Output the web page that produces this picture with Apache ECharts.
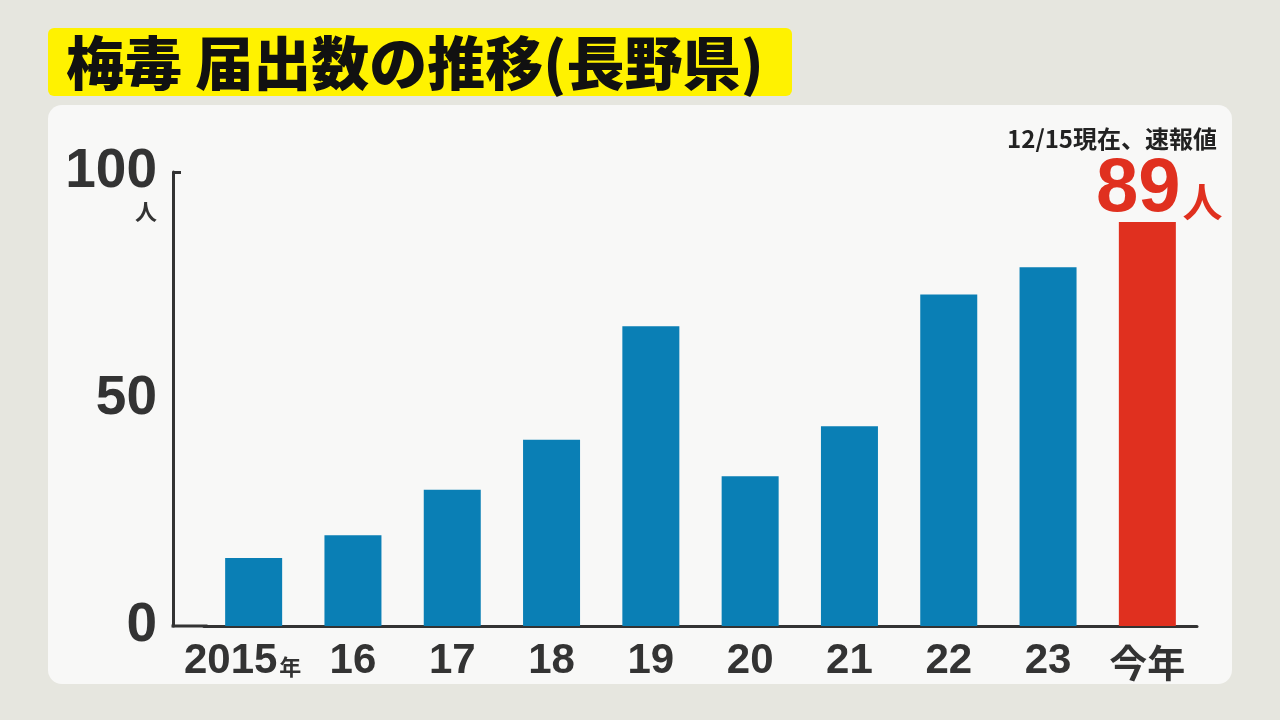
<!DOCTYPE html>
<html><head><meta charset="utf-8">
<style>html,body{margin:0;padding:0;background:#e6e6df;}#c{width:1280px;height:720px;}</style>
<script src="https://cdn.jsdelivr.net/npm/echarts@6/dist/echarts.min.js"></script>
</head><body><div id="c"></div>
<script>
const categories = ['2015','16','17','18','19','20','21','22','23','今年'];
const values = [15, 20, 30, 41, 66, 33, 44, 73, 79, 89];
const yTicks = [0, 50, 100];
const titleText = '梅毒 届出数の推移(長野県)';
const noteText = '12/15現在、速報値';

const BLUE = '#0a7fb5', RED = '#e0301f';
const chart = echarts.init(document.getElementById('c'));
const data = values.map((v, i) => i === values.length - 1 ? {
  value: v, itemStyle: {color: RED},
  label: {show: true, position: 'top', distance: 0, offset: [12, 6],
    formatter: p => '{n|' + p.value + '}{u|人}',
    rich: {
      n: {fontFamily: 'Liberation Sans, Arial, sans-serif', fontWeight: 'bold', fontSize: 76, color: RED, lineHeight: 70, verticalAlign: 'bottom'},
      u: {fontFamily: 'Noto Sans CJK JP', fontWeight: 'bold', fontSize: 40, color: RED, lineHeight: 70, verticalAlign: 'bottom', padding: [0, 0, 6, 2]}
    }}
} : {value: v});

chart.setOption({
  backgroundColor: '#e6e6df',
  animation: false,
  graphic: [
    {type: 'rect', shape: {x: 48, y: 105, width: 1184, height: 579, r: 14}, style: {fill: '#f8f8f7'}, z: -10},
    {type: 'rect', shape: {x: 48, y: 28, width: 744, height: 68, r: 6}, style: {fill: '#fff200'}, z: -10},
    {type: 'text', x: 66, y: 63, style: {text: titleText, font: '900 58px "Noto Sans CJK JP"', fill: '#111', textVerticalAlign: 'middle'}},
    {type: 'rect', shape: {x: 171.5, y: 624.5, width: 36, height: 3}, style: {fill: '#333'}, z: 10}
  ],
  title: {text: noteText, right: 58, top: 122,
    textStyle: {fontFamily: 'Noto Sans CJK JP', fontWeight: 'bold', fontSize: 24, color: '#222'}},
  grid: {left: 204, right: 83, top: 172, bottom: 94},
  xAxis: {
    type: 'category', data: categories,
    axisLine: {lineStyle: {color: '#333', width: 3}},
    axisTick: {show: false},
    axisLabel: {
      margin: 10, color: '#333',
      formatter: (v, i) => i === 0 ? '{y|' + v + '}{s|年}' : (v === '今年' ? '{c|' + v + '}' : '{y|' + v + '}'),
      rich: {
        y: {fontFamily: 'Liberation Sans, Arial, sans-serif', fontWeight: 'bold', fontSize: 42, color: '#333', verticalAlign: 'bottom', lineHeight: 46},
        s: {fontFamily: 'Noto Sans CJK JP', fontWeight: 'bold', fontSize: 22, color: '#333', verticalAlign: 'bottom', lineHeight: 46, padding: [0, 22, 4, 2]},
        c: {fontFamily: 'Noto Sans CJK JP', fontWeight: 'bold', fontSize: 38, color: '#333', verticalAlign: 'bottom', lineHeight: 46}
      }
    }
  },
  yAxis: {
    type: 'value', min: 0, max: 100, interval: 50, offset: 31,
    name: '人', nameLocation: 'end', nameGap: -40,
    nameTextStyle: {fontFamily: 'Noto Sans CJK JP', fontWeight: 'bold', fontSize: 22, color: '#333', align: 'right', verticalAlign: 'middle', padding: [0, 16, 0, 0]},
    axisLine: {show: true, lineStyle: {color: '#333', width: 3}},
    axisTick: {show: true, inside: true, length: 8, customValues: [100], lineStyle: {color: '#333', width: 3}},
    splitLine: {show: false},
    axisLabel: {customValues: yTicks, margin: 16, color: '#333', fontFamily: 'Liberation Sans, Arial, sans-serif', fontWeight: 'bold', fontSize: 55,
      verticalAlign: 'middle'}
  },
  series: [{type: 'bar', data: data, barWidth: 57, itemStyle: {color: BLUE}}]
});
</script></body></html>
